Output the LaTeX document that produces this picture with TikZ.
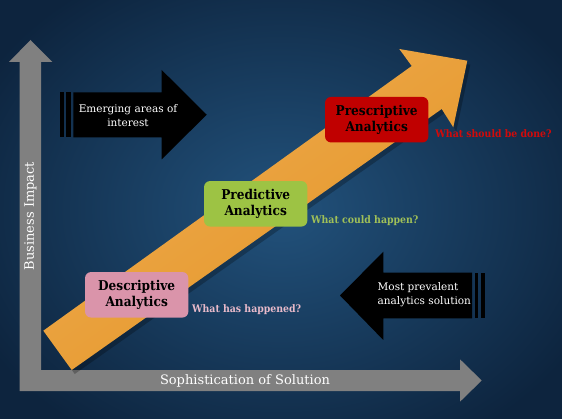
\documentclass[tikz,border=0pt]{standalone}
\usepackage{fontspec}
\setmainfont{DejaVu Serif}
\newfontfamily\condfont{DejaVu Serif Condensed}
\definecolor{bgin}{RGB}{34,82,124}
\definecolor{bgout}{RGB}{13,36,62}
\definecolor{axisgray}{RGB}{128,128,128}
\definecolor{orlight}{RGB}{238,172,82}
\definecolor{ordark}{RGB}{228,148,36}
\definecolor{prescred}{RGB}{192,0,0}
\definecolor{predgreen}{RGB}{157,195,68}
\definecolor{descpink}{RGB}{218,148,170}
\definecolor{presclab}{RGB}{210,10,10}
\definecolor{predlab}{RGB}{160,192,88}
\definecolor{desclab}{RGB}{232,186,202}
\tikzset{
  axislabel/.style={text=white, font=\fontsize{13}{15}\selectfont, inner sep=0pt},
  stagebox/.style={rounded corners=6pt, minimum width=103.3pt, minimum height=45.5pt,
    inner sep=0pt, align=center, text=black, font=\condfont\bfseries\fontsize{13.5}{16.6}\selectfont},
  qlabel/.style={anchor=base west, inner sep=0pt, font=\condfont\bfseries\fontsize{10.4}{12}\selectfont},
  arrowtext/.style={text=white, inner sep=0pt, font=\fontsize{10.5}{14.4}\selectfont},
  blackarrow/.style={fill=black}
}
\begin{document}
\begin{tikzpicture}[x=1pt,y=-1pt]
\useasboundingbox (0,0) rectangle (562,419);
\shade[inner color=bgin, outer color=bgout] (-60,-60) rectangle (622,479);
% axes
\fill[axisgray] (19.5,391) -- (460,391) -- (460,401.7) -- (481.7,380.5) -- (460,359.3)
  -- (460,370) -- (41,370) -- (41,62) -- (52.3,62) -- (30.5,40) -- (9,62) -- (19.5,62) -- cycle;
\node[axislabel, rotate=90] (ylab) at (30.5,216) {Business Impact};
\node[axislabel] (xlab) at (245,381) {Sophistication of Solution};
% orange arrow shadow and arrow
\fill[black, opacity=0.25] (46.3,334.7) -- (414.7,70) -- (402.3,53) -- (470.3,64.7)
  -- (456.3,131.3) -- (444.7,113) -- (74.7,374) -- cycle;
\shade[top color=orlight, bottom color=ordark, shading angle=35.5]
  (43.3,330.7) -- (411.7,66) -- (399.3,49) -- (467.3,60.7) -- (453.3,127.3)
  -- (441.7,109) -- (71.7,370) -- cycle;
% emerging arrow
\fill[blackarrow] (60,92.3) rectangle (64,137.3);
\fill[blackarrow] (66,92.3) rectangle (70.7,137.3);
\fill[blackarrow] (73.3,92.3) -- (161.7,92.3) -- (161.7,70) -- (206.7,114.7)
  -- (161.7,159.3) -- (161.7,137.3) -- (73.3,137.3) -- cycle;
\node[arrowtext, align=center] (emerg) at (128,115.5) {Emerging areas of\\interest};
% prevalent arrow
\fill[blackarrow] (474.5,272.7) rectangle (478,318.3);
\fill[blackarrow] (481,272.7) rectangle (485,318.3);
\fill[blackarrow] (472,272.7) -- (383.3,272.7) -- (383.3,251.7) -- (340,295.5)
  -- (383.3,340) -- (383.3,318.3) -- (472,318.3) -- cycle;
\node[arrowtext, align=left, anchor=west] (preval) at (377.5,294.5) {Most prevalent\\analytics solution};
% stage boxes
\node[stagebox, fill=prescred] (presc) at (376.7,119.7) {Prescriptive\\Analytics};
\node[stagebox, fill=predgreen] (pred) at (255.7,203.8) {Predictive\\Analytics};
\node[stagebox, fill=descpink] (desc) at (136.7,294.8) {Descriptive\\Analytics};
\node[qlabel, text=presclab, xshift=6.7pt, yshift=4.7pt] (prescq) at (presc.south east) {What should be done?};
\node[qlabel, text=predlab, xshift=3.4pt, yshift=3.2pt] (predq) at (pred.south east) {What could happen?};
\node[qlabel, text=desclab, xshift=3.4pt, yshift=4.8pt] (descq) at (desc.south east) {What has happened?};
\end{tikzpicture}
\end{document}
